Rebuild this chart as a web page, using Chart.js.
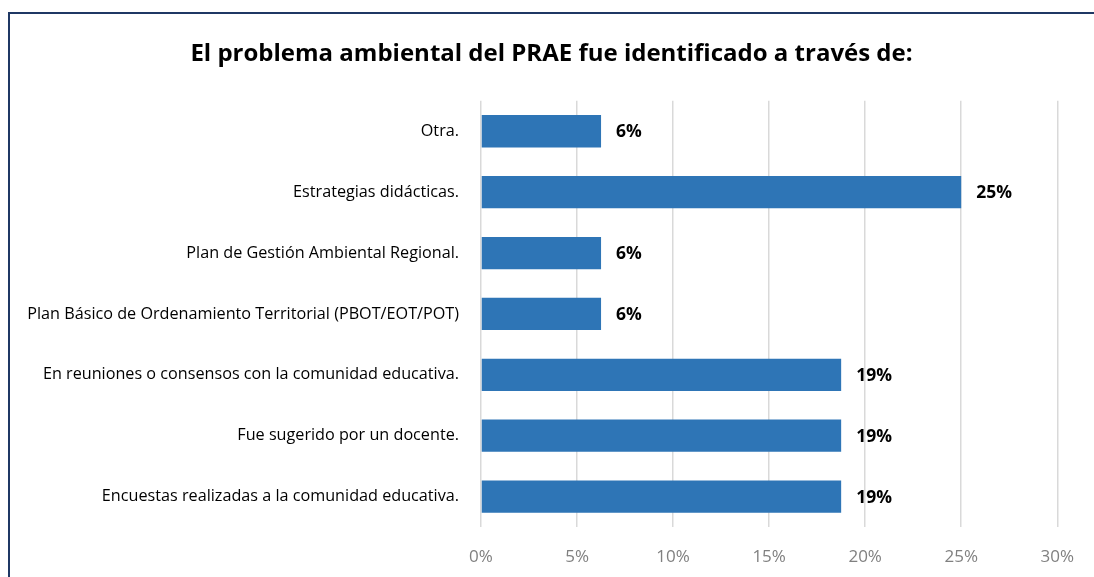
<!DOCTYPE html>
<html>
<head>
<meta charset="utf-8">
<script src="https://cdn.jsdelivr.net/npm/chart.js@4"></script>
<style>
    html, body { margin: 0; padding: 0; background: #fff; overflow: hidden; }
    #wrap { position: absolute; left: 0; top: 0; width: 1094px; height: 577px; }
    #frame {
        position: absolute; left: 8px; top: 12px; width: 1200px; height: 700px;
        border-top: 2px solid #1f3864; border-left: 2px solid #1f3864;
        pointer-events: none;
    }
</style>
</head>
<body>
<div id="wrap"><canvas id="chart" width="1094" height="577"></canvas></div>
<div id="frame"></div>
<script>
    const categories = [
        'Otra.',
        'Estrategias didácticas.',
        'Plan de Gestión Ambiental Regional.',
        'Plan Básico de Ordenamiento Territorial (PBOT/EOT/POT)',
        'En reuniones o consensos con la comunidad educativa.',
        'Fue sugerido por un docente.',
        'Encuestas realizadas a la comunidad educativa.'
    ];
    const percentages = [6.25, 25, 6.25, 6.25, 18.75, 18.75, 18.75];
    const tickValues = [0, 5, 10, 15, 20, 25, 30];

    const FONT = "'Open Sans'";

    // labels at the end of each bar
    const barLabels = {
        id: 'barLabels',
        afterLayout(chart) {
            // title sits centred on the whole frame, not the padded area
            if (chart.titleBlock) {
                chart.titleBlock.left += 21;
                chart.titleBlock.right += 21;
            }
        },
        afterDatasetsDraw(chart) {
            const ctx = chart.ctx;
            const meta = chart.getDatasetMeta(0);
            ctx.save();
            ctx.font = 'bold 17.5px ' + FONT;
            ctx.fillStyle = '#000';
            ctx.textAlign = 'left';
            ctx.textBaseline = 'middle';
            meta.data.forEach((bar, i) => {
                ctx.fillText(Math.round(percentages[i]) + '%', bar.x + 15, bar.y + 1);
            });
            ctx.restore();
        }
    };

    new Chart(document.getElementById('chart').getContext('2d'), {
        type: 'bar',
        data: {
            labels: categories,
            datasets: [{
                data: percentages,
                backgroundColor: '#2e75b6',
                barPercentage: 0.53,
                categoryPercentage: 1
            }]
        },
        options: {
            responsive: false,
            animation: false,
            indexAxis: 'y',
            layout: { padding: { left: 0, right: 33, top: 0, bottom: 12 } },
            scales: {
                x: {
                    min: 0,
                    max: 30,
                    afterBuildTicks: scale => { scale.ticks = tickValues.map(v => ({ value: v })); },
                    afterFit: scale => { scale.height = 38; },
                    grid: { color: '#d9d9d9', lineWidth: 1.5, drawTicks: false },
                    border: { display: false },
                    ticks: {
                        padding: 20,
                        color: '#808080',
                        font: { family: FONT, size: 17 },
                        callback: v => v + '%'
                    }
                },
                y: {
                    afterFit: scale => { scale.width = 481; },
                    grid: { display: false, drawTicks: false },
                    border: { display: false },
                    ticks: {
                        padding: 22,
                        color: '#000',
                        font: { family: FONT, size: 16.2 }
                    }
                }
            },
            plugins: {
                legend: { display: false },
                tooltip: { enabled: false },
                title: {
                    display: true,
                    text: 'El problema ambiental del PRAE fue identificado a través de:',
                    color: '#000',
                    font: { family: FONT, size: 24, weight: 'bold' },
                    padding: { top: 40, bottom: 32 }
                }
            }
        },
        plugins: [barLabels]
    });
</script>
</body>
</html>
